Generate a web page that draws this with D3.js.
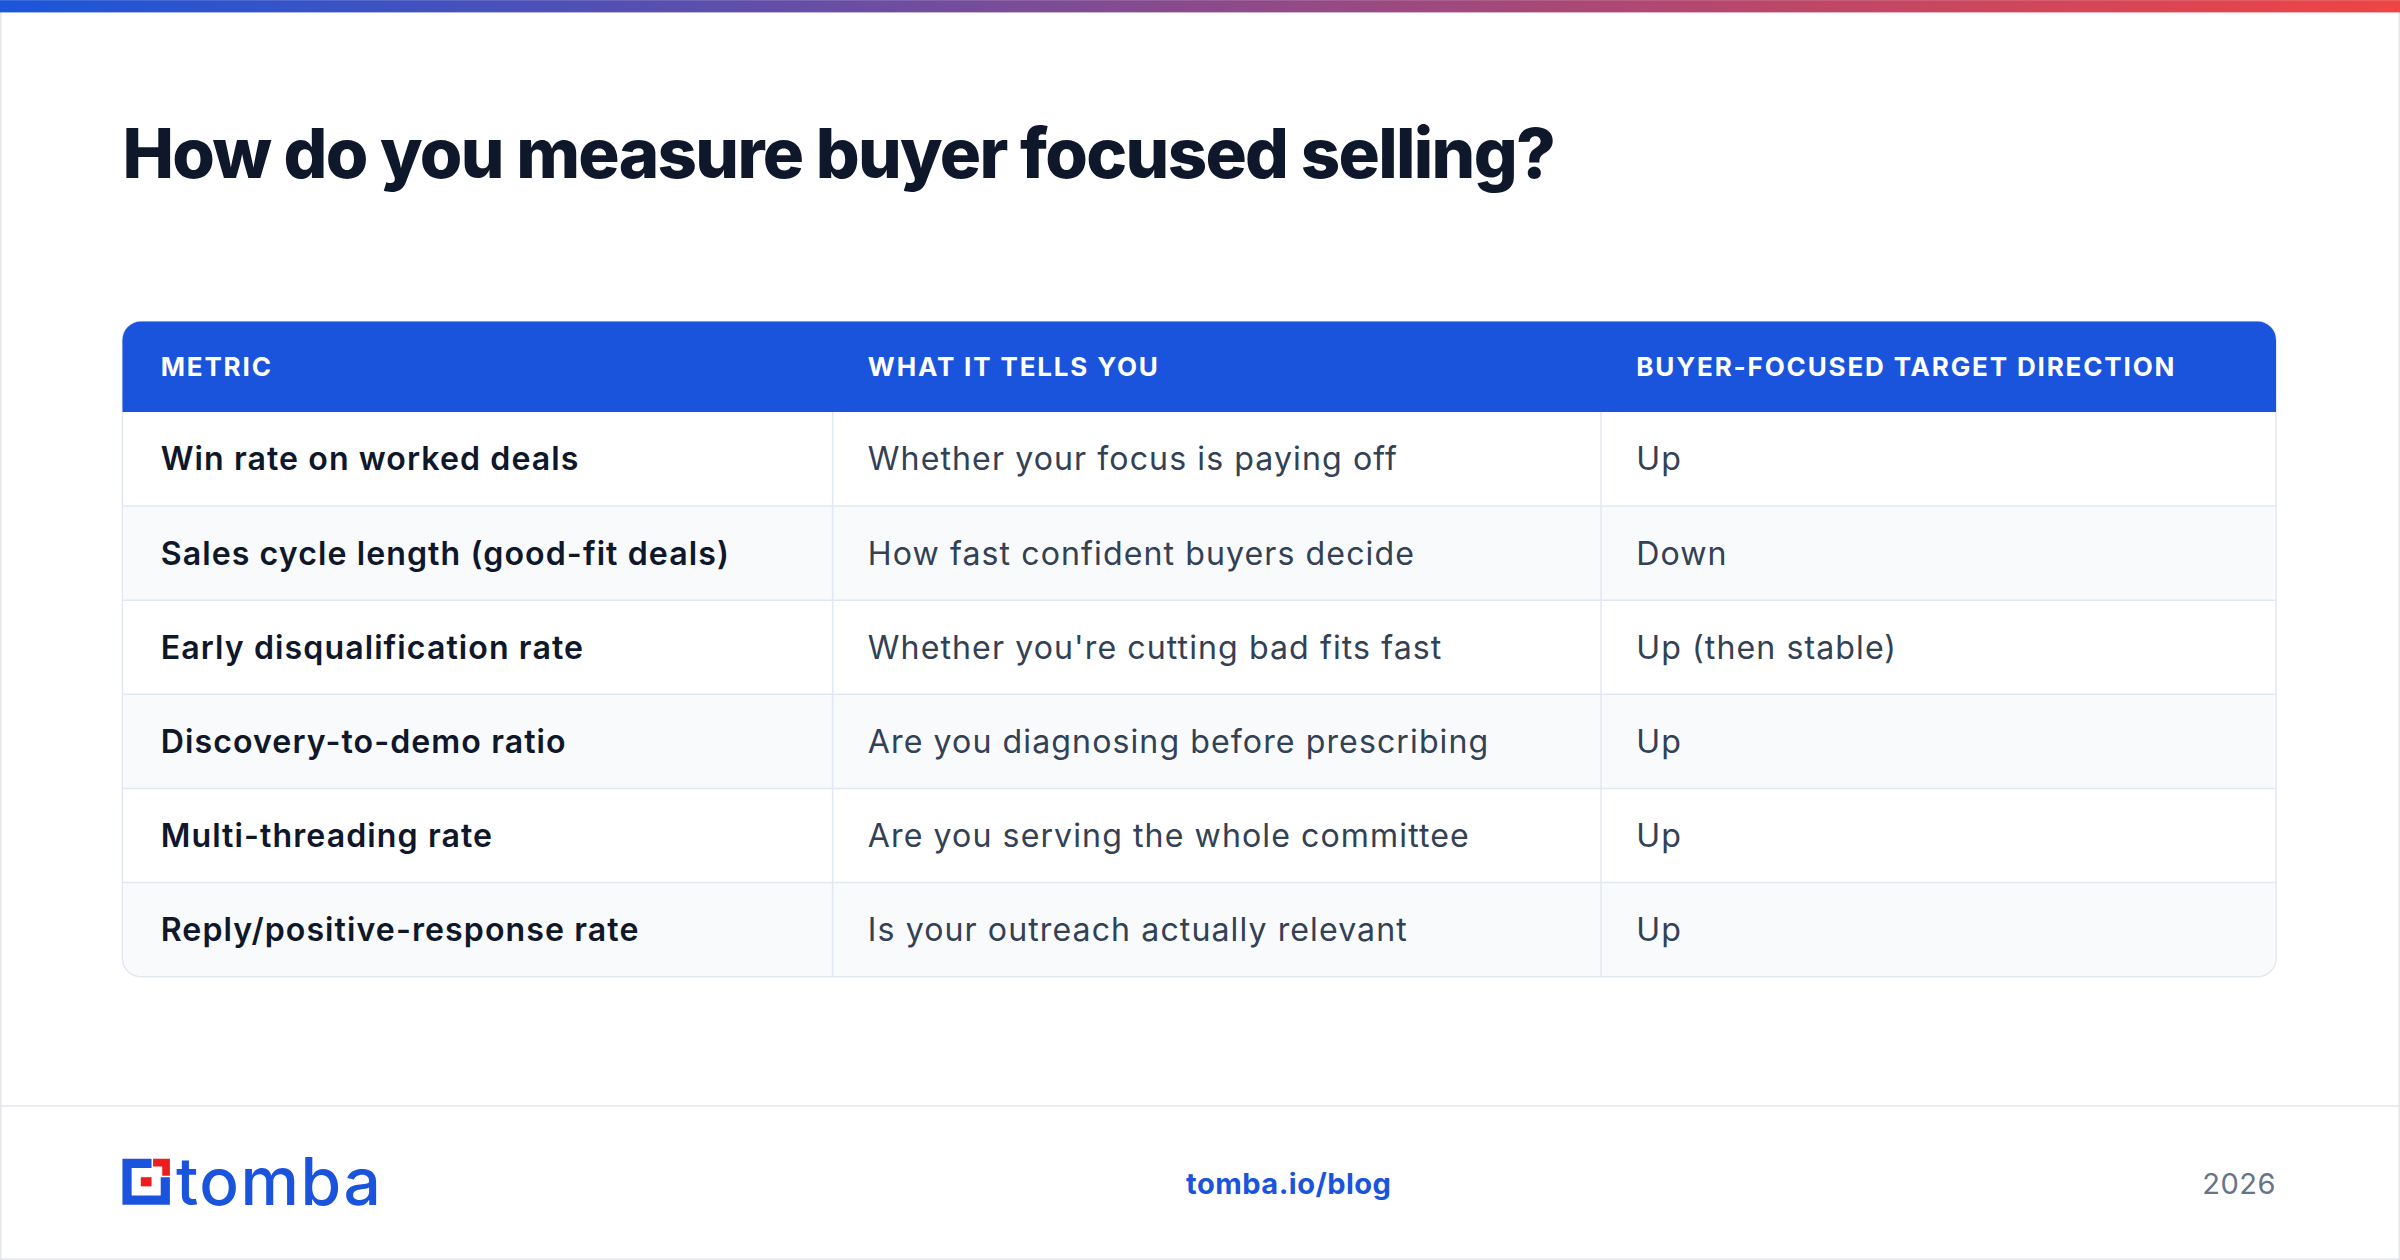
<!DOCTYPE html>
<html>
<head>
<meta charset="utf-8">
<script src="https://cdn.jsdelivr.net/npm/d3@7"></script>
<style>
  html, body { margin: 0; padding: 0; background: #fff; }
  svg { display: block; font-family: Inter, "Noto Sans", sans-serif; }
</style>
</head>
<body>
<svg id="chart"></svg>
<script>
// Table content
const headers = ["METRIC", "WHAT IT TELLS YOU", "BUYER-FOCUSED TARGET DIRECTION"];
const metrics = [
  "Win rate on worked deals",
  "Sales cycle length (good-fit deals)",
  "Early disqualification rate",
  "Discovery-to-demo ratio",
  "Multi-threading rate",
  "Reply/positive-response rate"
];
const meanings = [
  "Whether your focus is paying off",
  "How fast confident buyers decide",
  "Whether you're cutting bad fits fast",
  "Are you diagnosing before prescribing",
  "Are you serving the whole committee",
  "Is your outreach actually relevant"
];
const directions = ["Up", "Down", "Up (then stable)", "Up", "Up", "Up"];

const W = 1568, H = 823;
const svg = d3.select("#chart")
    .attr("width", 2400).attr("height", 1260)
    .attr("viewBox", `0 0 ${W} ${H}`);

// page frame + top gradient
const grad = svg.append("defs").append("linearGradient").attr("id", "topbar");
grad.append("stop").attr("offset", "0%").attr("stop-color", "#1a56db");
grad.append("stop").attr("offset", "50%").attr("stop-color", "#8b4a8c");
grad.append("stop").attr("offset", "100%").attr("stop-color", "#ef4444");

svg.append("rect").attr("x", 0.5).attr("y", 0.5).attr("width", W - 1).attr("height", H - 1)
    .attr("fill", "#fff").attr("stroke", "#e5e7eb");
svg.append("rect").attr("width", W).attr("height", 8).attr("fill", "url(#topbar)");

svg.append("text").attr("x", 80).attr("y", 116)
    .attr("font-size", 45).attr("font-weight", 800).attr("fill", "#0f172a")
    .attr("letter-spacing", -1.1)
    .text("How do you measure buyer focused selling?");

// table geometry
const left = 80, right = 1487, headTop = 210, headH = 59, rowH = 61.5;
const colX = d3.scaleOrdinal().domain([0, 1, 2]).range([left, 544, 1046]);
const y = d3.scaleBand().domain(d3.range(metrics.length))
    .range([headTop + headH, headTop + headH + rowH * metrics.length]);

const table = svg.append("g");
const bottom = y.range()[1];

// outer rounded shape
table.append("rect").attr("x", left).attr("y", headTop)
    .attr("width", right - left).attr("height", bottom - headTop)
    .attr("rx", 12).attr("fill", "#fff").attr("stroke", "#e2e8f0");

// striped rows
const rows = table.selectAll(".row").data(metrics).enter().append("g")
    .attr("transform", (d, i) => `translate(0,${y(i)})`);
rows.append("rect")
    .attr("x", left + 1).attr("width", right - left - 2)
    .attr("height", (d, i) => i === metrics.length - 1 ? y.bandwidth() - 12 : y.bandwidth())
    .attr("fill", (d, i) => i % 2 ? "#f8fafc" : "#fff");
rows.filter((d, i) => i === metrics.length - 1 && i % 2)
    .append("path")
    .attr("d", `M${left + 1},${rowH - 13} L${right - 1},${rowH - 13} L${right - 1},${rowH - 12} A11.5,11.5 0 0 1 ${right - 12.5},${rowH - 0.5} L${left + 12.5},${rowH - 0.5} A11.5,11.5 0 0 1 ${left + 1},${rowH - 12} Z`)
    .attr("fill", "#f8fafc");
rows.filter((d, i) => i > 0).append("line")
    .attr("x1", left).attr("x2", right).attr("y1", 0).attr("y2", 0)
    .attr("stroke", "#e2e8f0");

// column dividers
table.selectAll(".vline").data([1, 2]).enter().append("line")
    .attr("x1", d => colX(d)).attr("x2", d => colX(d))
    .attr("y1", headTop + headH).attr("y2", bottom)
    .attr("stroke", "#e2e8f0");

// header
table.append("path")
    .attr("d", `M${left},${headTop + headH} L${left},${headTop + 12} A12,12 0 0 1 ${left + 12},${headTop} L${right - 12},${headTop} A12,12 0 0 1 ${right},${headTop + 12} L${right},${headTop + headH} Z`)
    .attr("fill", "#1b54dc");
table.selectAll(".head").data(headers).enter().append("text")
    .attr("x", (d, i) => colX(i) + (i === 0 ? 25 : 23))
    .attr("y", headTop + headH / 2 + 6)
    .attr("font-size", 17).attr("font-weight", 700).attr("fill", "#fff")
    .attr("letter-spacing", 1.2)
    .text(d => d);

// cells
const cols = [metrics, meanings, directions];
cols.forEach((vals, c) => {
  table.selectAll(".c" + c).data(vals).enter().append("text")
      .attr("x", colX(c) + (c === 0 ? 25 : 23))
      .attr("y", (d, i) => y(i) + y.bandwidth() / 2 + 7.5)
      .attr("font-size", 21)
      .attr("font-weight", c === 0 ? 600 : 400)
      .attr("fill", c === 0 ? "#0f172a" : "#334155")
      .attr("letter-spacing", 0.7)
      .text(d => d);
});

// footer
svg.append("line").attr("x1", 0).attr("x2", W).attr("y1", 722.5).attr("y2", 722.5)
    .attr("stroke", "#e5e7eb");

const logo = svg.append("g").attr("transform", "translate(80,757)");
logo.append("path")
    .attr("d", "M0,0 H19 V6 H6 V24 H25 V12 H31 V30 H0 Z")
    .attr("fill", "#1b54dc");
logo.append("path").attr("d", "M20,0 H31 V11 H26 V5 H20 Z").attr("fill", "#ee1c1c");
logo.append("rect").attr("x", 12).attr("y", 12).attr("width", 7).attr("height", 6).attr("fill", "#ee1c1c");
logo.append("text").attr("x", 35).attr("y", 30)
    .attr("font-size", 43).attr("font-weight", 500).attr("fill", "#1b54dc")
    .attr("letter-spacing", 1)
    .text("tomba");

svg.append("text").attr("x", 842).attr("y", 780).attr("text-anchor", "middle")
    .attr("font-size", 19).attr("font-weight", 700).attr("fill", "#1b54dc")
    .attr("letter-spacing", 0.3)
    .text("tomba.io/blog");
svg.append("text").attr("x", 1487).attr("y", 780).attr("text-anchor", "end")
    .attr("font-size", 19).attr("fill", "#64748b")
    .attr("letter-spacing", 0.3)
    .text("2026");
</script>
</body>
</html>
